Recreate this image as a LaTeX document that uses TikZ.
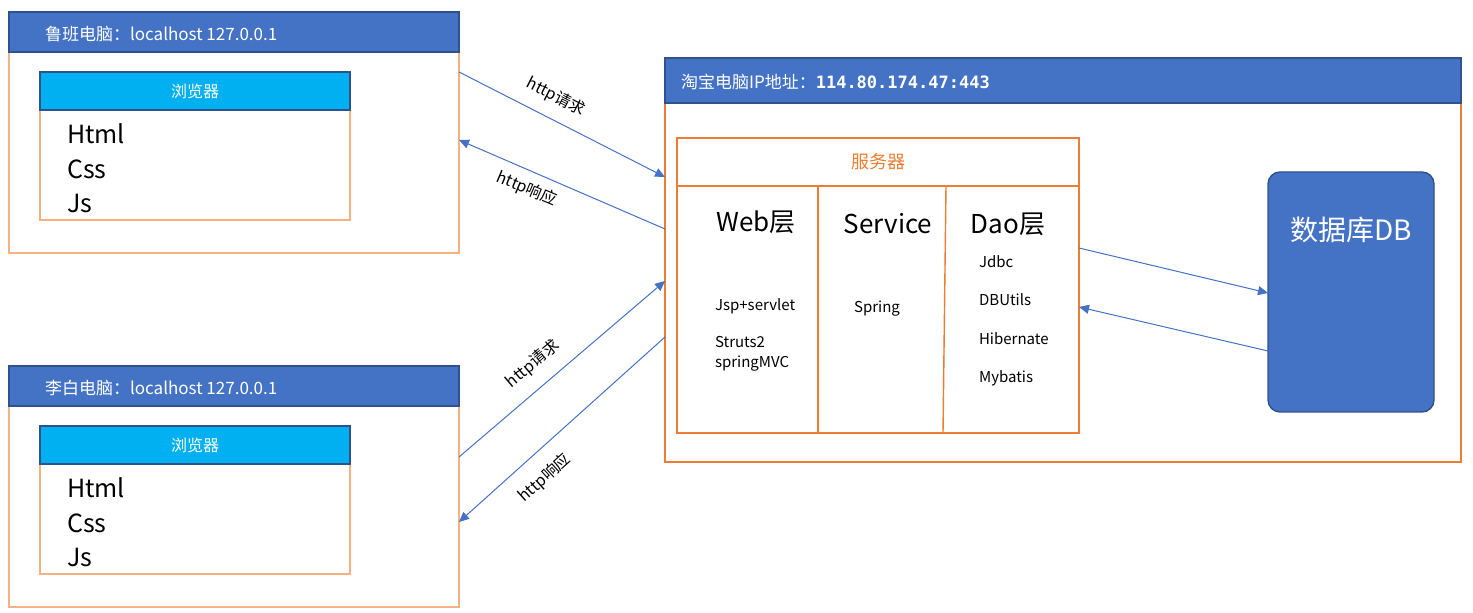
\documentclass[tikz,border=0pt]{standalone}
\usepackage{fontspec}
\setmainfont{Noto Sans CJK SC}
\newfontfamily\ipfont{DejaVu Sans Mono}
\usepackage{xcolor}
\definecolor{hdblue}{HTML}{4472C4}
\definecolor{hdedge}{HTML}{2F528F}
\definecolor{pcorange}{HTML}{F4B183}
\definecolor{srvorange}{HTML}{ED7D31}
\definecolor{brcyan}{HTML}{00B0F0}
\usetikzlibrary{arrows.meta}

\begin{document}
\begin{tikzpicture}[x=0.5pt, y=-0.5pt,
    font=\fontsize{7.5}{10}\selectfont,
    hdbar/.style={fill=hdblue, draw=hdedge, line width=0.6pt},
    pcframe/.style={draw=pcorange, line width=0.7pt},
    srvframe/.style={draw=srvorange, line width=0.7pt},
    link/.style={draw=hdblue, line width=0.5pt, -{Triangle[length=5pt, width=4.5pt]}},
    hdtext/.style={text=white, anchor=west, font=\fontsize{8.5}{10}\selectfont},
    lang/.style={anchor=west, font=\fontsize{12.5}{14}\selectfont},
    layer/.style={font=\fontsize{13}{15}\selectfont},
    tool/.style={anchor=west, align=left},
    httplbl/.style={font=\fontsize{8}{10}\selectfont}]
  \useasboundingbox (0,0) rectangle (1473,613);

  % the two client computers
  \foreach \dy/\who/\nm in {0/鲁班/pcA, 354/李白/pcB} {
    \begin{scope}[shift={(0,\dy)}]
      \draw[pcframe] (9,12) rectangle (459,253);
      \draw[hdbar] (9,12) rectangle (459,52);
      \node[hdtext] (\nm-title) at (38,34) {\who 电脑：localhost 127.0.0.1};
      \draw[pcframe] (40,72) rectangle (350,220);
      \draw[fill=brcyan, draw=hdedge, line width=0.6pt] (40,72) rectangle (350,110);
      \node[text=white, font=\fontsize{8}{10}\selectfont] (\nm-browser) at (195,91) {浏览器};
      \node[lang] (\nm-html) at (60,134) {Html};
      \node[lang] (\nm-css) at (60,169) {Css};
      \node[lang] (\nm-js) at (60,204) {Js};
    \end{scope}
  }

  % taobao server computer
  \draw[srvframe] (665,58) rectangle (1461,462);
  \draw[hdbar] (665,58) rectangle (1461,103);
  \node[hdtext] (tb-title) at (674,82) {淘宝电脑IP地址：{\ipfont\bfseries 114.80.174.47:443}};

  \draw[srvframe] (677,138) rectangle (1079,433);
  \draw[srvframe] (677,186) -- (1079,186);
  \draw[srvframe] (818,186) -- (818,433);
  \draw[srvframe] (946,186) -- (943,433);
  \node[text=srvorange, font=\fontsize{9}{11}\selectfont] (server) at (878,162) {服务器};

  \node[layer] (web) at (756,222) {Web层};
  \node[layer] (service) at (888,224) {Service};
  \node[layer] (dao) at (1008,224) {Dao层};

  \node[tool] (jsp) at (708,306) {Jsp+servlet};
  \node[tool] (struts) at (708,354) {Struts2\\springMVC};
  \node[tool] (spring) at (847,309) {Spring};
  \node[tool] (jdbc) at (972,262) {Jdbc};
  \node[tool] (dbutils) at (972,300) {DBUtils};
  \node[tool] (hibernate) at (972,339) {Hibernate};
  \node[tool] (mybatis) at (972,378) {Mybatis};

  % database
  \draw[fill=hdblue, draw=hdedge, line width=0.7pt, rounded corners=6pt] (1268,172) rectangle (1434,412);
  \node[text=white, font=\fontsize{14}{16}\selectfont] (db) at (1351,230) {数据库DB};

  % connector end points
  \coordinate (pcA-req) at (459,72);
  \coordinate (tb-reqA) at (665,177);
  \coordinate (tb-resA) at (665,229);
  \coordinate (pcA-res) at (459,140);
  \coordinate (pcB-req) at (459,457);
  \coordinate (tb-reqB) at (665,281);
  \coordinate (tb-resB) at (665,337);
  \coordinate (pcB-res) at (459,522);
  \coordinate (dao-out) at (1079,248);
  \coordinate (db-in) at (1268,293);
  \coordinate (db-out) at (1268,351);
  \coordinate (dao-in) at (1079,307);

  \draw[link] (pcA-req) -- (tb-reqA);
  \draw[link] (tb-resA) -- (pcA-res);
  \draw[link] (pcB-req) -- (tb-reqB);
  \draw[link] (tb-resB) -- (pcB-res);
  \draw[link] (dao-out) -- (db-in);
  \draw[link] (db-out) -- (dao-in);

  \node[httplbl, rotate=-27] (lblA-req) at (556,97) {http请求};
  \node[httplbl, rotate=-23] (lblA-res) at (527,189) {http响应};
  \node[httplbl, rotate=40] (lblB-req) at (533,364) {http请求};
  \node[httplbl, rotate=42] (lblB-res) at (545,478) {http响应};
\end{tikzpicture}
\end{document}
